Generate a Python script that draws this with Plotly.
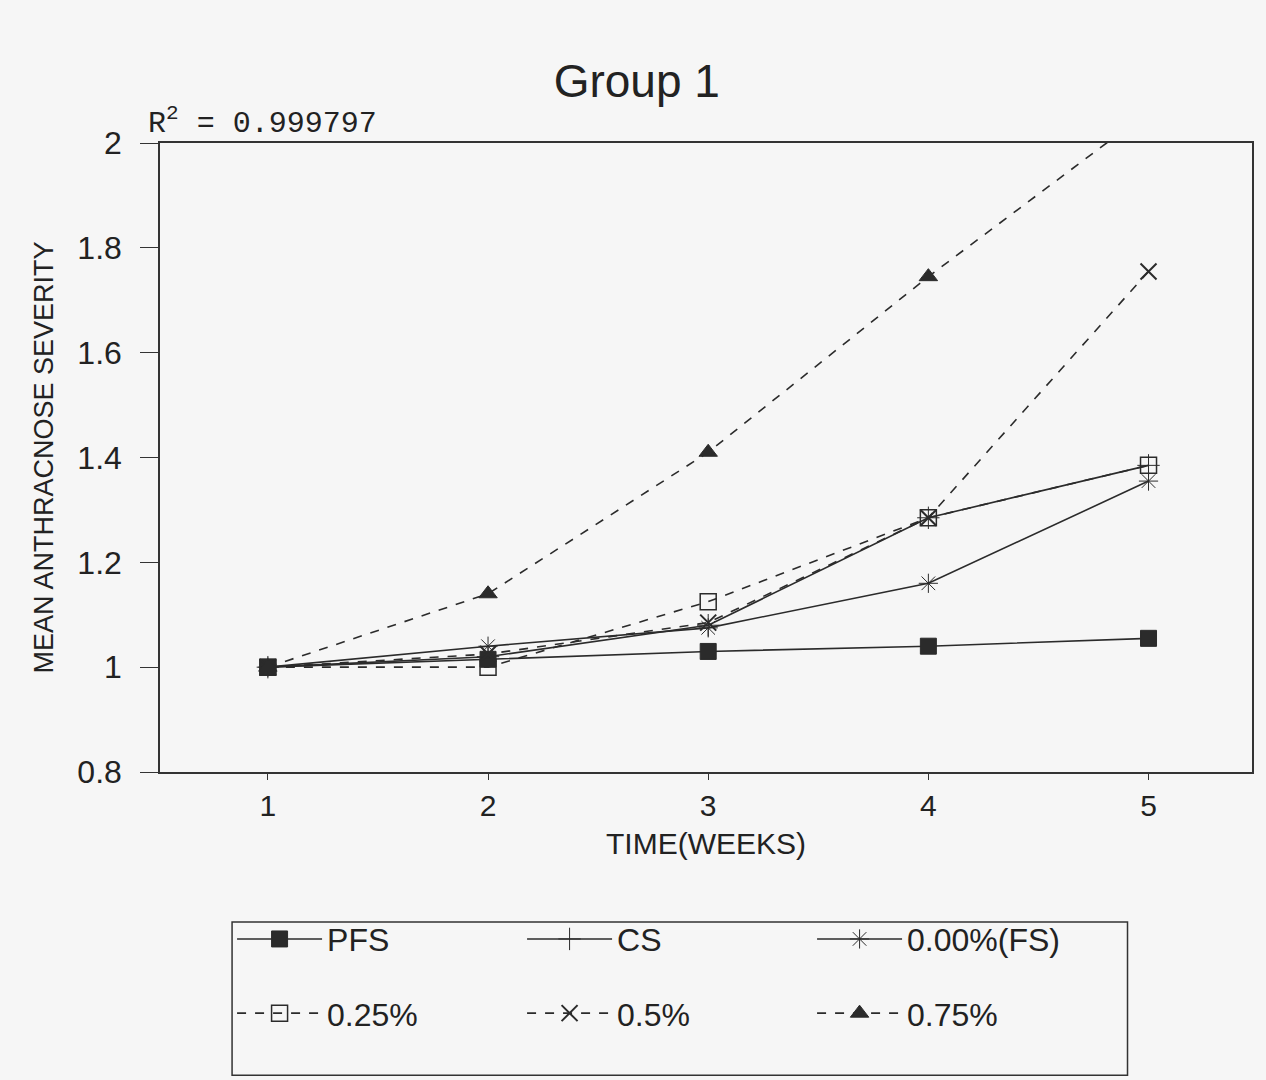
import plotly.graph_objects as go

weeks = [1, 2, 3, 4, 5]
pfs = [1.00, 1.015, 1.03, 1.04, 1.055]
cs = [1.00, 1.02, 1.08, 1.285, 1.385]
fs000 = [1.00, 1.04, 1.075, 1.16, 1.355]
p025 = [1.00, 1.00, 1.125, 1.285, 1.385]
p050 = [1.00, 1.025, 1.085, 1.285, 1.755]
p075 = [1.00, 1.14, 1.41, 1.745, 2.06]

y_ticks = [0.8, 1, 1.2, 1.4, 1.6, 1.8, 2]
y_ticklabels = ["0.8", "1", "1.2", "1.4", "1.6", "1.8", "2"]

INK = "#2b2b2b"
series = [
    ("PFS", pfs, "square", "solid", 1, "legend"),
    ("CS", cs, "cross-thin-open", "solid", 1, "legend"),
    ("0.00%(FS)", fs000, "asterisk-open", "solid", 1, "legend"),
    ("0.25%", p025, "square-open", "dash", 1.5, "legend2"),
    ("0.5%", p050, "x-thin-open", "dash", 2, "legend2"),
    ("0.75%", p075, "triangle-up", "dash", 1, "legend2"),
]

fig = go.Figure()
for name, vals, sym, dash, mlw, lg in series:
    fig.add_trace(go.Scatter(
        x=weeks, y=vals, name=name, mode="lines+markers",
        line=dict(color=INK, width=1.6, dash=dash),
        marker=dict(symbol=sym, size=16, color=INK,
                    line=dict(color=INK, width=mlw)),
        cliponaxis=False, legend=lg,
    ))

legend_common = dict(
    orientation="h", xanchor="left", yanchor="top",
    entrywidth=190, entrywidthmode="pixels",
    borderwidth=0, bgcolor="rgba(0,0,0,0)",
    font=dict(size=32, color="#222"), itemwidth=85,
)

fig.update_layout(
    width=1266, height=1080,
    paper_bgcolor="#f6f6f6", plot_bgcolor="#f6f6f6",
    margin=dict(l=160, r=14, t=143, b=308),
    font=dict(family="Liberation Sans, Arial, sans-serif", color="#222", size=28),
    title=dict(text="Group 1", x=0.503, xanchor="center", y=0.925, yanchor="middle",
               font=dict(size=46, color="#222")),
    showlegend=True,
    legend=dict(x=0.066, y=-0.222, **legend_common),
    legend2=dict(x=0.066, y=-0.34, **legend_common),
    shapes=[dict(
        type="rect", xref="paper", yref="paper",
        x0=0.066, x1=0.886, y0=-0.482, y1=-0.2385,
        line=dict(color="#333", width=1.5), fillcolor="rgba(0,0,0,0)",
    )],
    annotations=[dict(
        text="R<sup>2</sup> = 0.999797", xref="paper", yref="paper",
        x=-0.013, y=1.0, xanchor="left", yanchor="bottom", showarrow=False,
        font=dict(family="Liberation Mono, Courier New, monospace", size=30, color="#222"),
    )],
)

fig.update_xaxes(
    range=[0.51, 5.47], tickvals=weeks, ticktext=[str(w) for w in weeks],
    showline=True, linecolor="#333", linewidth=1.5, mirror=True,
    ticks="outside", ticklen=6, tickcolor="#333", showgrid=False, zeroline=False,
    title=dict(text="TIME(WEEKS)", font=dict(size=30), standoff=12),
    tickfont=dict(size=30),
)
fig.update_yaxes(
    range=[0.8, 2.0], tickvals=y_ticks, ticktext=y_ticklabels,
    showline=True, linecolor="#333", linewidth=1.5, mirror=True,
    ticks="outside", ticklen=18, tickcolor="#333", showgrid=False, zeroline=False,
    ticklabelstandoff=12,
    title=dict(text="MEAN ANTHRACNOSE SEVERITY", font=dict(size=27), standoff=16),
    tickfont=dict(size=32),
)

fig.write_html("out.html")
